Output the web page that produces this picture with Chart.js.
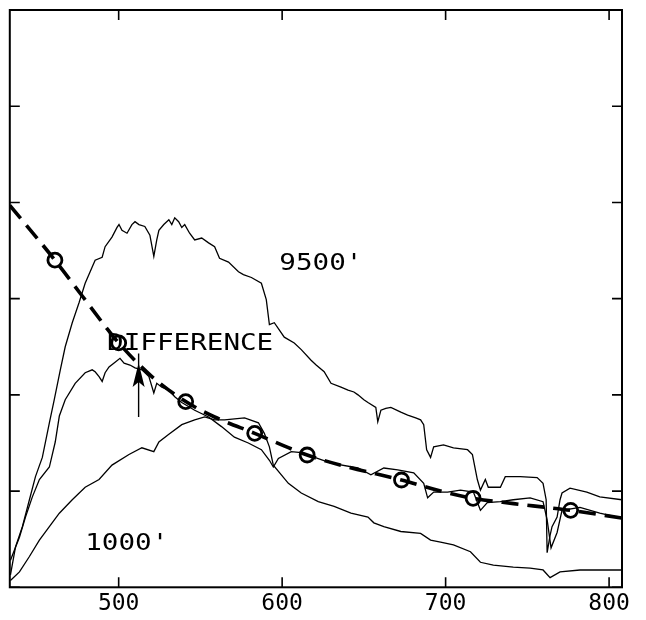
<!DOCTYPE html>
<html>
<head>
<meta charset="utf-8">
<script src="https://cdn.jsdelivr.net/npm/chart.js@4.4.1/dist/chart.umd.min.js"></script>
<style>
  html, body { margin: 0; padding: 0; background: #fff; }
</style>
</head>
<body>
<canvas id="chart" width="646" height="620"></canvas>
<script>
// spectrum at 9500 ft
const wl9500 = [
  433.8, 436.9, 441.1, 445.4, 449.1, 453.3, 457.6, 460.6, 464.3, 467.3,
  471.6, 475.8, 479.5, 483.8, 485.6, 489.9, 491.7, 495.9, 499.0, 500.2,
  502.0, 505.1, 508.1, 510.0, 512.4, 516.0, 519.1, 521.5, 523.3, 524.6,
  527.6, 530.7, 532.5, 534.3, 536.7, 538.6, 540.4, 543.4, 546.5, 550.8,
  555.0, 558.7, 561.7, 567.2, 573.3, 576.3, 581.2, 587.3, 590.3, 592.2,
  595.2, 601.3, 607.4, 611.7, 617.7, 620.8, 625.7, 629.9, 636.0, 640.3,
  643.9, 646.4, 650.0, 652.5, 657.3, 658.5, 660.4, 663.4, 666.5, 672.6,
  676.8, 681.7, 684.7, 686.6, 688.4, 690.8, 692.7, 698.7, 704.8, 713.4,
  716.4, 719.4, 721.3, 724.3, 726.1, 733.5, 736.5, 745.6, 756.0, 759.6,
  761.5, 762.1, 763.9, 765.1, 768.2, 770.0, 771.2, 776.1, 786.4, 794.3,
  807.8
];
const val9500 = [
  0.13, 0.42, 0.63, 0.91, 1.15, 1.35, 1.71, 1.95, 2.26, 2.50,
  2.75, 2.96, 3.16, 3.33, 3.40, 3.43, 3.54, 3.64, 3.74, 3.77,
  3.71, 3.68, 3.77, 3.80, 3.77, 3.75, 3.66, 3.44, 3.61, 3.71,
  3.77, 3.82, 3.77, 3.84, 3.80, 3.74, 3.77, 3.68, 3.61, 3.63,
  3.58, 3.54, 3.42, 3.38, 3.28, 3.25, 3.22, 3.16, 2.99, 2.73,
  2.75, 2.60, 2.54, 2.47, 2.36, 2.31, 2.24, 2.12, 2.08, 2.05,
  2.03, 2.00, 1.95, 1.92, 1.87, 1.72, 1.84, 1.86, 1.87, 1.82,
  1.79, 1.76, 1.74, 1.69, 1.43, 1.35, 1.46, 1.48, 1.45, 1.43,
  1.38, 1.12, 1.01, 1.12, 1.04, 1.04, 1.15, 1.15, 1.14, 1.08,
  0.91, 0.36, 0.54, 0.63, 0.73, 0.91, 0.98, 1.03, 0.99, 0.94,
  0.91
];

// spectrum at 1000 ft
const wl1000 = [
  433.8, 439.3, 445.4, 451.5, 457.6, 463.7, 471.6, 479.5, 488.0, 495.9,
  506.3, 514.2, 521.5, 524.6, 530.7, 538.6, 546.5, 552.6, 558.7, 564.8,
  577.0, 585.5, 589.1, 592.2, 594.6, 603.8, 611.7, 622.1, 631.8, 642.1,
  652.5, 656.1, 662.2, 672.6, 684.7, 690.8, 696.9, 704.8, 715.2, 721.3,
  729.2, 741.4, 751.7, 759.6, 763.9, 770.0, 782.2, 794.3, 807.8
];
const val1000 = [
  0.07, 0.16, 0.32, 0.49, 0.63, 0.77, 0.91, 1.04, 1.12, 1.27,
  1.38, 1.45, 1.41, 1.51, 1.59, 1.69, 1.74, 1.77, 1.74, 1.74,
  1.76, 1.71, 1.60, 1.46, 1.27, 1.08, 0.98, 0.89, 0.84, 0.77,
  0.73, 0.67, 0.63, 0.58, 0.56, 0.49, 0.47, 0.44, 0.37, 0.26,
  0.23, 0.21, 0.20, 0.18, 0.10, 0.16, 0.18, 0.18, 0.18
];

// difference of the two
const wlDiff = [
  433.8, 439.3, 443.0, 447.2, 451.5, 457.6, 461.2, 463.7, 467.3, 473.4,
  479.5, 483.8, 485.6, 488.0, 489.9, 491.7, 494.1, 497.8, 500.8, 503.3,
  506.9, 510.0, 514.2, 518.5, 521.5, 523.3, 526.4, 530.7, 534.3, 538.6,
  546.5, 555.0, 562.9, 570.8, 579.3, 587.3, 592.2, 594.6, 597.7, 605.6,
  611.7, 629.9, 646.4, 654.3, 662.2, 670.7, 680.5, 686.6, 689.0, 692.7,
  701.2, 709.1, 717.0, 721.3, 725.5, 733.5, 741.4, 751.7, 759.6, 762.1,
  764.5, 768.2, 771.2, 782.2, 794.3, 807.8
];
const valDiff = [
  0.28, 0.52, 0.73, 0.94, 1.12, 1.25, 1.51, 1.78, 1.95, 2.12,
  2.23, 2.26, 2.24, 2.19, 2.14, 2.23, 2.29, 2.34, 2.38, 2.33,
  2.31, 2.28, 2.26, 2.19, 2.02, 2.12, 2.08, 2.05, 1.98, 1.92,
  1.84, 1.77, 1.67, 1.56, 1.50, 1.43, 1.32, 1.25, 1.34, 1.41,
  1.40, 1.29, 1.24, 1.17, 1.24, 1.22, 1.19, 1.08, 0.93, 0.99,
  0.99, 1.01, 0.99, 0.80, 0.88, 0.89, 0.91, 0.93, 0.89, 0.70,
  0.41, 0.57, 0.80, 0.83, 0.77, 0.72
];

// dashed curve and its circled points
const wlFit = [433.4, 461.0, 477.6, 491.9, 500.0, 520.3, 541.0, 558.7, 583.2,
  615.3, 640.1, 673.0, 696.9, 716.8, 741.6, 761.9, 776.5, 807.9];
const valFit = [3.97, 3.40, 3.03, 2.71, 2.54, 2.19, 1.93, 1.77, 1.60,
  1.375, 1.25, 1.115, 1.00, 0.925, 0.87, 0.83, 0.80, 0.72];
const wlMarks = [461.0, 500.0, 541.0, 583.2, 615.3, 673.0, 716.8, 776.5];
const valMarks = [3.40, 2.54, 1.93, 1.60, 1.375, 1.115, 0.925, 0.80];

const xTicks = [500, 600, 700, 800];
const yTicks = [0, 1, 2, 3, 4, 5, 6];

const notes = [
  { text: "9500'", x: 598.3, y: 3.30 },
  { text: 'DIFFERENCE', x: 492.9, y: 2.47 },
  { text: "1000'", x: 479.5, y: 0.39 },
];
const arrow = { x: 512.2, from: 1.77, to: 2.43, tip: 2.33 };

const FONT = '"DejaVu Sans Mono", "Liberation Mono", monospace';

function toPoints(xs, ys) {
  return xs.map((x, i) => ({ x, y: ys[i] }));
}

const thinLine = {
  borderColor: '#000',
  borderWidth: 1.3,
  pointRadius: 0,
  tension: 0,
  fill: false,
};

const overlay = {
  id: 'overlay',
  afterDraw(chart) {
    const { ctx, chartArea: a } = chart;
    const { x, y } = chart.scales;
    ctx.save();
    ctx.strokeStyle = '#000';
    ctx.fillStyle = '#000';

    // inward ticks on all four sides
    ctx.lineWidth = 1.6;
    ctx.beginPath();
    xTicks.forEach((v) => {
      const px = x.getPixelForValue(v);
      ctx.moveTo(px, a.bottom);
      ctx.lineTo(px, a.bottom - 10);
      ctx.moveTo(px, a.top);
      ctx.lineTo(px, a.top + 10);
    });
    yTicks.forEach((v) => {
      const py = y.getPixelForValue(v);
      ctx.moveTo(a.left, py);
      ctx.lineTo(a.left + 10, py);
      ctx.moveTo(a.right, py);
      ctx.lineTo(a.right - 10, py);
    });
    ctx.stroke();

    ctx.lineWidth = 2;
    ctx.strokeRect(a.left, a.top, a.right - a.left, a.bottom - a.top);

    // text labels, stretched a bit like the plotter lettering
    ctx.font = '23px ' + FONT;
    ctx.textBaseline = 'alphabetic';
    notes.forEach((n) => {
      ctx.save();
      ctx.translate(x.getPixelForValue(n.x), y.getPixelForValue(n.y));
      ctx.scale(1.2, 1);
      ctx.fillText(n.text, 0, 0);
      ctx.restore();
    });

    // arrow pointing at the difference curve
    const ax = x.getPixelForValue(arrow.x);
    const y0 = y.getPixelForValue(arrow.from);
    const y1 = y.getPixelForValue(arrow.to);
    const tip = y.getPixelForValue(arrow.tip);
    ctx.lineWidth = 1.4;
    ctx.beginPath();
    ctx.moveTo(ax, y0);
    ctx.lineTo(ax, y1);
    ctx.stroke();
    ctx.beginPath();
    ctx.moveTo(ax, tip);
    ctx.lineTo(ax - 6, tip + 24);
    ctx.lineTo(ax, tip + 19);
    ctx.lineTo(ax + 6, tip + 24);
    ctx.closePath();
    ctx.fill();

    ctx.restore();
  },
};

new Chart(document.getElementById('chart'), {
  type: 'line',
  data: {
    datasets: [
      {
        type: 'scatter',
        data: toPoints(wlMarks, valMarks),
        showLine: false,
        pointStyle: 'circle',
        pointRadius: 7,
        pointBorderWidth: 2.8,
        pointBorderColor: '#000',
        pointBackgroundColor: 'rgba(0,0,0,0)',
      },
      {
        ...thinLine,
        data: toPoints(wlFit, valFit),
        borderWidth: 3.6,
        borderDash: [17, 9],
        cubicInterpolationMode: 'monotone',
      },
      { ...thinLine, data: toPoints(wl9500, val9500) },
      { ...thinLine, data: toPoints(wlDiff, valDiff) },
      { ...thinLine, data: toPoints(wl1000, val1000) },
    ],
  },
  options: {
    responsive: false,
    animation: false,
    maintainAspectRatio: false,
    layout: {
      padding: { top: 10, left: 7, right: 24, bottom: 0 },
    },
    plugins: {
      legend: { display: false },
      tooltip: { enabled: false },
    },
    scales: {
      x: {
        type: 'linear',
        min: 433.4,
        max: 807.9,
        afterBuildTicks: (scale) => {
          scale.ticks = xTicks.map((v) => ({ value: v }));
        },
        grid: { display: false, drawTicks: false },
        border: { display: false },
        ticks: {
          color: '#000',
          padding: 10.6,
          maxRotation: 0,
          autoSkip: false,
          font: { family: FONT, size: 23, lineHeight: 0.5 },
        },
      },
      y: {
        display: false,
        min: 0,
        max: 6,
      },
    },
  },
  plugins: [overlay],
});
</script>
</body>
</html>
